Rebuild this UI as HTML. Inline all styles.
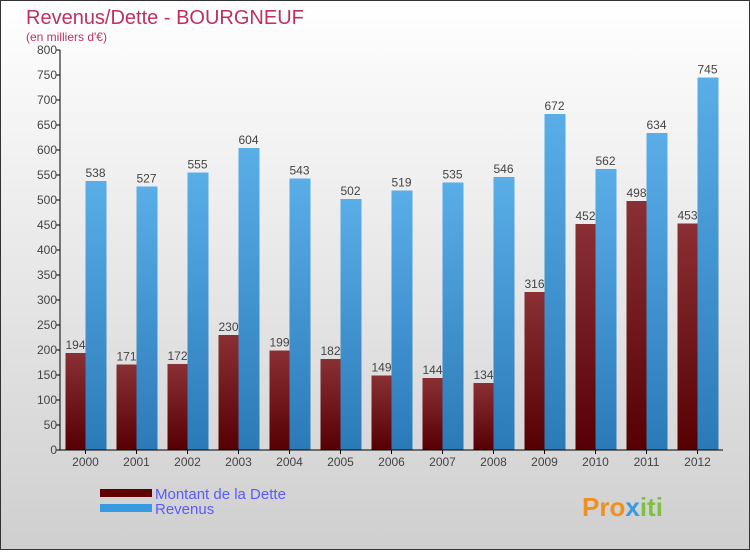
<!DOCTYPE html>
<html><head><meta charset="utf-8"><style>
html,body{margin:0;padding:0}
body{width:750px;height:550px;overflow:hidden;font-family:"Liberation Sans",sans-serif}
</style></head><body>
<svg id="chart" width="750" height="550" xmlns="http://www.w3.org/2000/svg">
<defs>
<linearGradient id="bg" x1="0" y1="0" x2="0" y2="1"><stop offset="0" stop-color="#ffffff"/><stop offset="1" stop-color="#cfcfcf"/></linearGradient>
<linearGradient id="gd" x1="0" y1="0" x2="0" y2="1"><stop offset="0" stop-color="#8a3034"/><stop offset="1" stop-color="#560003"/></linearGradient>
<linearGradient id="gr" x1="0" y1="0" x2="0" y2="1"><stop offset="0" stop-color="#5aaee8"/><stop offset="1" stop-color="#2a7ab8"/></linearGradient>
</defs>
<rect x="0.5" y="0.5" width="749" height="549" fill="url(#bg)" stroke="#333"/>
<text x="26" y="24" font-size="20" fill="#c0305e">Revenus/Dette - BOURGNEUF</text>
<text x="26" y="41" font-size="12" fill="#c0305e">(en milliers d'€)</text>
<g id="plot"></g>
<g>
<rect x="100" y="489" width="52" height="8" fill="#600000"/>
<text x="155" y="499" font-size="15" fill="#5a5aff">Montant de la Dette</text>
<rect x="100" y="504" width="52" height="8" fill="#3a9ae0"/>
<text x="155" y="514" font-size="15" fill="#5a5aff">Revenus</text>
</g>
<text x="582" y="516" font-size="26" font-weight="bold" fill="#f09020">Pro<tspan fill="#3a9ae0">x</tspan><tspan fill="#80c040">iti</tspan></text>
</svg>
<script>
const years=["2000","2001","2002","2003","2004","2005","2006","2007","2008","2009","2010","2011","2012"];
const dette=[194,171,172,230,199,182,149,144,134,316,452,498,453];
const revenus=[538,527,555,604,543,502,519,535,546,672,562,634,745];
const yTicks=[0,50,100,150,200,250,300,350,400,450,500,550,600,650,700,750,800];
const NS="http://www.w3.org/2000/svg";
const g=document.getElementById('plot');
const x0=60,step=51,yBase=450,yTop=50,yMax=800;
const y=v=>yBase-(v/yMax)*(yBase-yTop);
const cx=i=>x0+step*(i+0.5);
function mk(t,a){const e=document.createElementNS(NS,t);for(const k in a)e.setAttribute(k,a[k]);g.appendChild(e);return e;}
yTicks.forEach(v=>{
 const l=mk('line',{x1:x0-4,x2:x0,y1:y(v),y2:y(v),stroke:'#000'});
 
 
 const t=mk('text',{x:x0-3,y:y(v)+4,'font-size':12,'text-anchor':'end',fill:'#444'});
 t.textContent=v;
 
 
});
years.forEach((yr,i)=>{
 const c=cx(i);
 const bd=mk('rect',{x:c-20,y:y(dette[i]),width:20,height:yBase-y(dette[i]),fill:'url(#gd)'});
 
 
 const br=mk('rect',{x:c,y:y(revenus[i]),width:21,height:yBase-y(revenus[i]),fill:'url(#gr)'});
 
 
 const td=mk('text',{x:c-10,y:y(dette[i])-4,'font-size':12,'text-anchor':'middle',fill:'#444'});
 td.textContent=dette[i];
 
 
 const tr=mk('text',{x:c+10,y:y(revenus[i])-4,'font-size':12,'text-anchor':'middle',fill:'#444'});
 tr.textContent=revenus[i];
 
 
 const tk=mk('line',{x1:c,x2:c,y1:yBase,y2:yBase+4,stroke:'#000'});
 
 
 const tx=mk('text',{x:c,y:yBase+16,'font-size':12,'text-anchor':'middle',fill:'#444'});
 tx.textContent=yr;
 
 
});
const ya=mk('line',{x1:x0,x2:x0,y1:yTop,y2:yBase,stroke:'#000'});


const xa=mk('line',{x1:x0,x2:x0+step*years.length,y1:yBase,y2:yBase,stroke:'#000'});


</script>
</body></html>
